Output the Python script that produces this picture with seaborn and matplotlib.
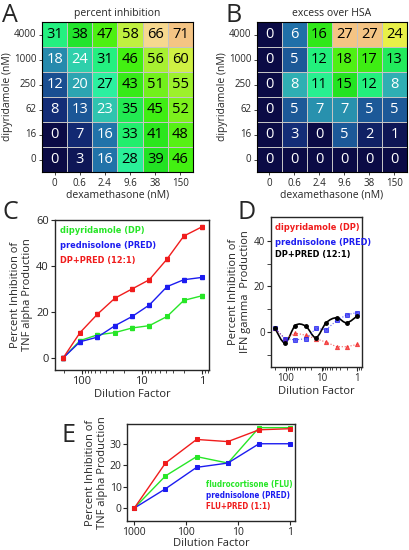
import numpy as np
import pandas as pd
import matplotlib
matplotlib.use("Agg")
import matplotlib.pyplot as plt
import seaborn as sns
from matplotlib.colors import LinearSegmentedColormap
from matplotlib.path import Path
from matplotlib.patches import PathPatch
from matplotlib.ticker import NullFormatter, NullLocator

sns.set_style("ticks")
plt.rcParams['font.family'] = ['Open Sans', 'DejaVu Sans']

# === Heatmap data ===
dex_labels = ["0", "0.6", "2.4", "9.6", "38", "150"]
dip_labels = ["4000", "1000", "250", "62", "16", "0"]
inhibition = [[31, 38, 47, 58, 66, 71],
              [18, 24, 31, 46, 56, 60],
              [12, 20, 27, 43, 51, 55],
              [8, 13, 23, 35, 45, 52],
              [0, 7, 16, 33, 41, 48],
              [0, 3, 16, 28, 39, 46]]
excess = [[0, 6, 16, 27, 27, 24],
          [0, 5, 12, 18, 17, 13],
          [0, 8, 11, 15, 12, 8],
          [0, 5, 7, 7, 5, 5],
          [0, 3, 0, 5, 2, 1],
          [0, 0, 0, 0, 0, 0]]

# === Panel C: TNF alpha ===
dilution_c = [204, 107, 55, 28, 14.5, 7.5, 3.8, 2, 1]
c_dp = [0, 7.5, 10, 11, 13, 14, 18, 25, 27]
c_pred = [0, 7, 9, 14, 18, 23, 31, 34, 35]
c_mix = [0, 11, 19, 26, 30, 34, 43, 53, 57]
c_err = [0.8, 0.8, 0.8, 0.8, 0.8, 0.8, 0.8, 0.8, 0.8]

# === Panel D: IFN gamma ===
dilution_d = [204, 107, 55, 28, 14.5, 7.5, 3.8, 2, 1]
d_dp = [1.5, -3, -0.5, -1.5, -3, -4.5, -6.5, -6.5, -5.5]
d_pred = [1.5, -3, -3.5, -3, 1.5, 1, 5, 7.5, 8.5]
d_mix = [1.5, -4.8, 2.8, 2.5, -2.5, 4, 6.2, 4, 7]

# === Panel E: FLU + PRED ===
dilution_e = [1000, 250, 62.5, 15.6, 3.9, 1]
e_flu = [0, 15, 24, 21, 37.5, 37.5]
e_pred = [0, 9, 19, 21, 30, 30]
e_mix = [0, 21, 32, 31, 36.5, 37]

GREEN, BLUE, RED = "#27e627", "#1c1cf0", "#f01c1c"

cmap = LinearSegmentedColormap.from_list("pi", [
    (0.0, "#0b0b45"), (0.12, "#14307c"), (0.22, "#2070a8"), (0.30, "#30b4b4"),
    (0.38, "#2cf0a0"), (0.45, "#22f078"), (0.55, "#22e222"), (0.65, "#44f010"),
    (0.75, "#88f020"), (0.82, "#c0f040"), (0.89, "#e8f048"), (0.93, "#f6d890"),
    (1.0, "#f4c484")])

W, H = 410, 550
fig = plt.figure(figsize=(W / 100, H / 100), dpi=100)


def box(l, t, r, b):
    return fig.add_axes([l / W, 1 - b / H, (r - l) / W, (b - t) / H])


def heat(ax, values, vmax, title):
    df = pd.DataFrame(values, index=dip_labels, columns=dex_labels)
    sns.heatmap(df, ax=ax, cmap=cmap, vmin=0, vmax=vmax, annot=True, fmt="d",
                cbar=False, linewidths=0.7, linecolor="#c4c4c4",
                annot_kws={"fontsize": 10.5})
    for t in ax.texts:
        v = int(t.get_text())
        t.set_color("white" if v / vmax < 0.35 else "black")
    for s in ax.spines.values():
        s.set_visible(True)
        s.set_color("black")
        s.set_linewidth(0.8)
    ax.tick_params(length=2.5, width=0.6, pad=1.5, labelsize=7)
    ax.set_yticklabels(dip_labels, rotation=0)
    ax.set_xticklabels(dex_labels, rotation=0)
    ax.set_title(title, fontsize=7.5, pad=4)
    ax.set_xlabel("dexamethasone (nM)", fontsize=7.5, labelpad=1)
    ax.set_ylabel("dipyridamole (nM)", fontsize=7.5, labelpad=1)


heat(box(42, 22, 193, 172), inhibition, 71, "percent inhibition")
heat(box(257, 22, 407, 172), excess, 27, "excess over HSA")


def log_axis(ax, ticks, labels, minor=True, size=8):
    ax.set_xscale("log")
    ax.set_xticks(ticks)
    ax.set_xticklabels(labels)
    if not minor:
        ax.xaxis.set_minor_locator(NullLocator())
    ax.xaxis.set_minor_formatter(NullFormatter())
    ax.tick_params(axis="both", labelsize=size, length=3, width=0.8, pad=1.5)
    ax.tick_params(which="minor", length=2, width=0.6)
    for s in ax.spines.values():
        s.set_linewidth(1)


def legend_text(ax, x, ys, labels, colors, size=6.6):
    for y, lab, col in zip(ys, labels, colors):
        ax.text(x, y, lab, transform=ax.transAxes, color=col, fontsize=size,
                fontweight="bold", family="DejaVu Sans", fontstretch="condensed",
                va="center", ha="left")


# --- C ---
ax = box(55, 220, 209, 370)
for vals, col in [(c_dp, GREEN), (c_pred, BLUE), (c_mix, RED)]:
    sns.lineplot(x=dilution_c, y=vals, ax=ax, color=col, lw=1, marker="s",
                 markersize=3.5, markeredgecolor=col)
    ax.errorbar(dilution_c, vals, yerr=c_err, fmt="none", ecolor=col,
                elinewidth=0.8, capsize=1.5)
log_axis(ax, [100, 10, 1], ["100", "10", "1"])
ax.set_xlim(280, 0.76)
ax.set_ylim(-5.3, 60)
ax.set_yticks([0, 20, 40, 60])
ax.set_xlabel("Dilution Factor", fontsize=8, labelpad=1)
ax.set_ylabel("Percent Inhibition of\nTNF alpha Production", fontsize=8,
              linespacing=1.1, labelpad=2)
legend_text(ax, 0.035, [0.933, 0.833, 0.733],
            ["dipyridamole (DP)", "prednisolone (PRED)", "DP+PRED (12:1)"],
            [GREEN, BLUE, RED])

# --- D ---
ax = box(271, 217, 362, 367)
sns.lineplot(x=dilution_d, y=d_dp, ax=ax, color=RED, lw=0.8, ls=":", alpha=0.7,
             marker="^", markersize=3, markeredgecolor=RED)
sns.lineplot(x=dilution_d, y=d_pred, ax=ax, color=BLUE, lw=0.8, ls=":", alpha=0.7,
             marker="s", markersize=3.5, markeredgecolor=BLUE)
ax.plot(dilution_d, d_mix, ls="none", marker="o", ms=2.5, color="black")
# smooth black curve (Catmull-Rom through the measured points, in log-x space)
lx = np.log10(dilution_d)
py = np.array(d_mix, dtype=float)
P = np.column_stack([lx, py])
Pe = np.vstack([P[0], P, P[-1]])
verts, codes = [P[0]], [Path.MOVETO]
for i in range(len(P) - 1):
    p0, p1, p2, p3 = Pe[i], Pe[i + 1], Pe[i + 2], Pe[i + 3]
    verts += [p1 + (p2 - p0) / 6, p2 - (p3 - p1) / 6, p2]
    codes += [Path.CURVE4] * 3
verts = np.array(verts)
verts[:, 0] = 10 ** verts[:, 0]
ax.add_patch(PathPatch(Path(verts, codes), fill=False, ec="black", lw=1.2))
log_axis(ax, [100, 10, 1], ["100", "10", "1"], size=7)
ax.set_xlim(265, 0.74)
ax.set_ylim(-15.4, 50.4)
ax.set_yticks([0, 20, 40])
ax.set_yticks([-10, 10, 30], minor=True)
ax.tick_params(axis="y", which="minor", length=3)
ax.set_xlabel("Dilution Factor", fontsize=8, labelpad=1)
ax.set_ylabel("Percent Inhibition of\nIFN gamma  Production", fontsize=8,
              linespacing=1.1, labelpad=2)
legend_text(ax, 0.045, [0.931, 0.833, 0.753],
            ["dipyridamole (DP)", "prednisolone (PRED)", "DP+PRED (12:1)"],
            [RED, BLUE, "black"])

# --- E ---
ax = box(127, 424, 295, 521)
for vals, col in [(e_flu, GREEN), (e_pred, BLUE), (e_mix, RED)]:
    sns.lineplot(x=dilution_e, y=vals, ax=ax, color=col, lw=1, marker="s",
                 markersize=3, markeredgecolor=col)
log_axis(ax, [1000, 100, 10, 1], ["1000", "100", "10", "1"], minor=False, size=7.5)
ax.tick_params(pad=1)
ax.set_xlim(1380, 0.79)
ax.set_ylim(-6, 39.2)
ax.set_yticks([0, 10, 20, 30])
ax.set_xlabel("Dilution Factor", fontsize=8, labelpad=0)
ax.set_ylabel("Percent Inhibition of\nTNF alpha Production", fontsize=8,
              linespacing=1.1, labelpad=1)
legend_text(ax, 0.47, [0.38, 0.262, 0.153],
            ["fludrocortisone (FLU)", "prednisolone (PRED)", "FLU+PRED (1:1)"],
            [GREEN, BLUE, RED], size=5.8)

# panel letters
for lab, x, y in [("A", 2, 3), ("B", 226, 3), ("C", 2, 200), ("D", 238, 200), ("E", 62, 423)]:
    fig.text(x / W, 1 - y / H, lab, fontsize=18, va="top", ha="left")

fig.savefig("out.png", dpi=100)
